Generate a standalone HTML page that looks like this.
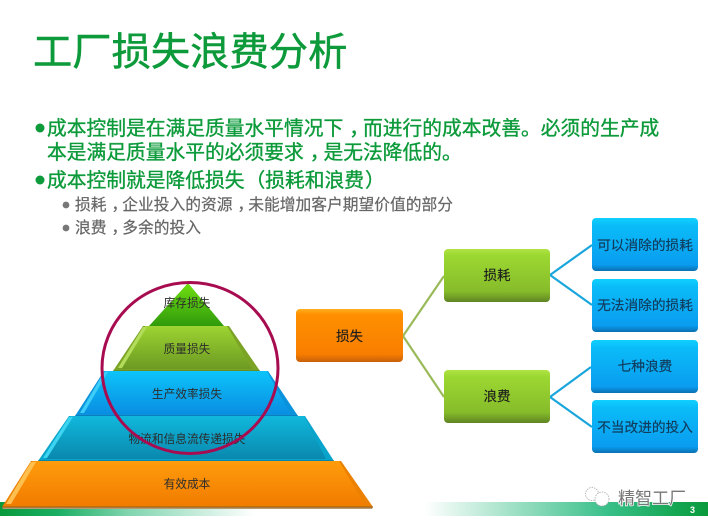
<!DOCTYPE html>
<html><head><meta charset="utf-8">
<style>
html,body{margin:0;padding:0;background:#fff;width:708px;height:528px;overflow:hidden}
svg{display:block}
text{font-family:"Liberation Sans","Noto Sans CJK SC",sans-serif;text-spacing-trim:space-all;font-kerning:none}
.g{fill:#0c9a3a;stroke:#0c9a3a;stroke-width:.35px;font-size:19.75px}
.s{fill:#666;stroke:#666;stroke-width:.2px;font-size:15.75px}
.p{fill:#2c2c2c;font-size:11.7px;text-anchor:middle}
.b{fill:#1c1c1c;stroke:#1c1c1c;stroke-width:.15px;font-size:13.5px;text-anchor:middle}
.bb{fill:#123a5a;stroke:#123a5a;stroke-width:.15px;font-size:13.7px;text-anchor:middle}
</style></head><body>
<svg width="708" height="528" viewBox="0 0 708 528" xmlns="http://www.w3.org/2000/svg">
<defs>
<linearGradient id="bar" x1="0" x2="1" y1="0" y2="0">
<stop offset="0" stop-color="#0a9a3c"/><stop offset=".08" stop-color="#19ae62"/><stop offset=".18" stop-color="#7fd4ae"/><stop offset=".36" stop-color="#fff"/><stop offset=".6" stop-color="#fff"/><stop offset=".86" stop-color="#38bf88"/><stop offset=".95" stop-color="#16a855"/><stop offset="1" stop-color="#0a9a3c"/>
</linearGradient>
<linearGradient id="o" x1="0" x2="0" y1="0" y2="1"><stop offset="0" stop-color="#ffb020"/><stop offset=".1" stop-color="#ff9000"/><stop offset=".85" stop-color="#f87e00"/><stop offset="1" stop-color="#c85f08"/></linearGradient>
<linearGradient id="gr" x1="0" x2="0" y1="0" y2="1"><stop offset="0" stop-color="#b0e444"/><stop offset=".12" stop-color="#9cd832"/><stop offset=".8" stop-color="#86bc2a"/><stop offset="1" stop-color="#5f8424"/></linearGradient>
<linearGradient id="bl" x1="0" x2="0" y1="0" y2="1"><stop offset="0" stop-color="#10d0ff"/><stop offset=".15" stop-color="#0abcf8"/><stop offset=".88" stop-color="#0a9cf0"/><stop offset="1" stop-color="#0a70b0"/></linearGradient>
<linearGradient id="l1" x1="0" x2="0" y1="0" y2="1"><stop offset="0" stop-color="#70e010"/><stop offset="1" stop-color="#2f9a0c"/></linearGradient>
<linearGradient id="l2" x1="0" x2="0" y1="0" y2="1"><stop offset="0" stop-color="#9ed432"/><stop offset="1" stop-color="#6c9a22"/></linearGradient>
<linearGradient id="l3" x1="0" x2="0" y1="0" y2="1"><stop offset="0" stop-color="#0cc4fa"/><stop offset="1" stop-color="#0a8ee2"/></linearGradient>
<linearGradient id="l4" x1="0" x2="0" y1="0" y2="1"><stop offset="0" stop-color="#10b8dc"/><stop offset="1" stop-color="#0a88ae"/></linearGradient>
<linearGradient id="l5" x1="0" x2="0" y1="0" y2="1"><stop offset="0" stop-color="#ff9c0c"/><stop offset="1" stop-color="#f27c00"/></linearGradient>
</defs>

<rect x="0" y="502" width="708" height="14" fill="url(#bar)"/>

<text x="33" y="65.5" font-size="39.3" fill="#0c9a3a" stroke="#0c9a3a" stroke-width=".5">工厂损失浪费分析</text>

<circle cx="40" cy="128" r="4.5" fill="#0c9a3a"/>
<text class="g" x="47" y="135">成本控制是在满足质量水平情况下<tspan dx="6">，</tspan><tspan dx="-6">而</tspan>进行的成本改善。必须的生产成</text>
<text class="g" x="47" y="159">本是满足质量水平的必须要求<tspan dx="6">，</tspan><tspan dx="-6">是</tspan>无法降低的。</text>
<circle cx="40" cy="180" r="4.5" fill="#0c9a3a"/>
<text class="g" x="47" y="187">成本控制就是降低损失<tspan dx="1">（</tspan>损耗和浪费<tspan dx="1">）</tspan></text>
<circle cx="66" cy="205" r="3.4" fill="#777"/>
<text class="s" x="75" y="210">损耗<tspan dx="5">，</tspan><tspan dx="-5">企</tspan>业投入的资源<tspan dx="5">，</tspan><tspan dx="-5">未</tspan>能增加客户期望价值的部分</text>
<circle cx="66" cy="228" r="3.4" fill="#777"/>
<text class="s" x="75" y="233">浪费<tspan dx="5">，</tspan><tspan dx="-5">多</tspan>余的投入</text>

<!-- connectors -->
<g fill="none">
<path d="M403 336L444 276M403 336L444 397" stroke="#9aba5a" stroke-width="2.2"/>
<path d="M550 275L592 245M550 275L592 305M550 397L591 367M550 397L592 427" stroke="#1aa6dc" stroke-width="2.2"/>
</g>

<!-- boxes -->
<rect x="296" y="309" width="107" height="53" rx="4" fill="url(#o)"/>
<rect x="444" y="249" width="106" height="53" rx="4" fill="url(#gr)"/>
<rect x="444" y="370" width="106" height="53" rx="4" fill="url(#gr)"/>
<rect x="592" y="218" width="106" height="53" rx="4" fill="url(#bl)"/>
<rect x="592" y="279" width="106" height="53" rx="4" fill="url(#bl)"/>
<rect x="591" y="340" width="107" height="53" rx="4" fill="url(#bl)"/>
<rect x="592" y="400" width="106" height="53" rx="4" fill="url(#bl)"/>
<text class="b" x="349.5" y="341">损失</text>
<text class="b" x="497" y="280">损耗</text>
<text class="b" x="497" y="401">浪费</text>
<text class="bb" x="645" y="250">可以消除的损耗</text>
<text class="bb" x="645" y="310">无法消除的损耗</text>
<text class="bb" x="645" y="371">七种浪费</text>
<text class="bb" x="645" y="432">不当改进的投入</text>

<!-- pyramid -->
<polygon points="2,507 373,507 372,509 3,509" fill="#b89a70"/>
<polygon points="188,283 224,326 149,326" fill="url(#l1)"/>

<polygon points="143,326 229,326 260,371 113,371" fill="#7ba326"/>
<polygon points="145,326 227,326 252,369 121,369" fill="url(#l2)"/>
<polygon points="143,327 147,327 122,368 118,368" fill="#b2dc5a"/>
<line x1="113" y1="371" x2="260" y2="371" stroke="#5a7a1c"/>

<polygon points="104,371 268,371 298,416 75,416" fill="#0a92dc"/>
<polygon points="105,371 267,371 290,414 83,414" fill="url(#l3)"/>
<polygon points="104,372 108,372 84,413 80,413" fill="#3ccdf8"/>
<line x1="75" y1="416" x2="298" y2="416" stroke="#0a6aa0"/>

<polygon points="69,416 305,416 334,461 38,461" fill="#08a4cc"/>
<polygon points="70,416 304,416 326,459 46,459" fill="url(#l4)"/>
<polygon points="69,417 73,417 47,458 43,458" fill="#3cd4f0"/>
<line x1="38" y1="461" x2="334" y2="461" stroke="#086a88"/>

<polygon points="31,461 341,461 373,507 2,507" fill="#ec8000"/>
<polygon points="33,461 339,461 365,505 10,505" fill="url(#l5)"/>
<polygon points="31,462 36,462 11,504 6,504" fill="#ffc050"/>
<line x1="2" y1="507" x2="373" y2="507" stroke="#9a5a10"/>

<text class="p" x="187" y="307">库存损失</text>
<text class="p" x="187" y="353">质量损失</text>
<text class="p" x="187" y="398">生产效率损失</text>
<text class="p" x="187" y="443">物流和信息流传递损失</text>
<text class="p" x="187" y="488">有效成本</text>

<ellipse cx="190" cy="368" rx="88" ry="85.5" fill="none" stroke="#a80c50" stroke-width="3"/>

<!-- watermark -->
<g fill="#fff" stroke="#aaa" stroke-width=".8" stroke-dasharray="1.5 1">
<circle cx="592" cy="494" r="6.5"/>
<circle cx="602" cy="499" r="7"/>
</g>
<text x="618" y="504" font-size="17" fill="#777" stroke="#fff" stroke-width="1.5" paint-order="stroke">精智工厂</text>
<text x="690" y="513" font-size="9" font-weight="700" fill="#fff">3</text>
</svg>
</body></html>
